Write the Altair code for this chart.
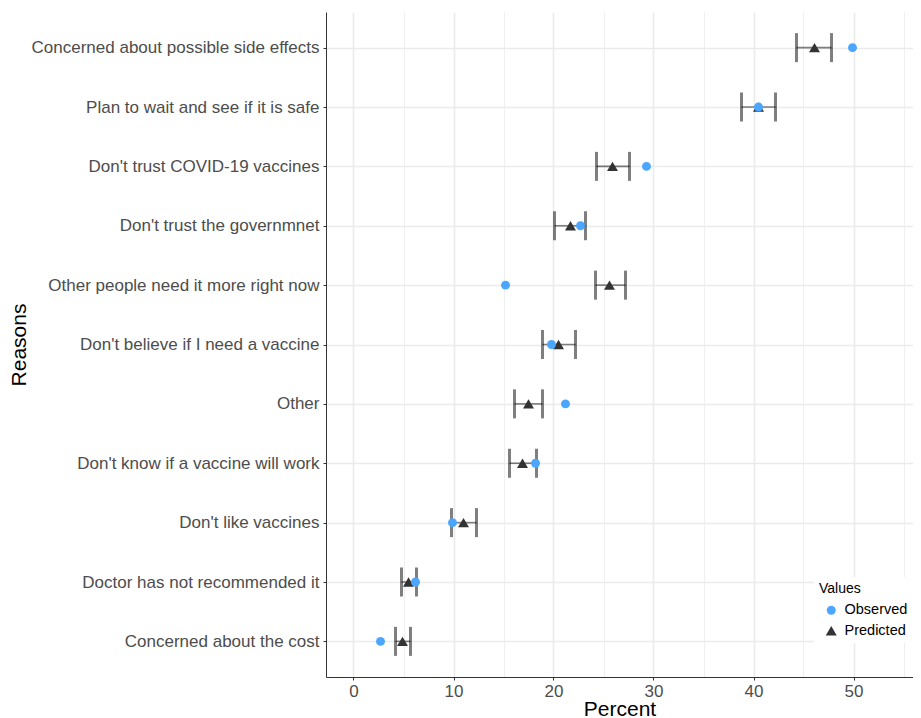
import altair as alt
import pandas as pd

reasons = [
    "Concerned about possible side effects",
    "Plan to wait and see if it is safe",
    "Don't trust COVID-19 vaccines",
    "Don't trust the governmnet",
    "Other people need it more right now",
    "Don't believe if I need a vaccine",
    "Other",
    "Don't know if a vaccine will work",
    "Don't like vaccines",
    "Doctor has not recommended it",
    "Concerned about the cost",
]
observed = [49.9, 40.5, 29.3, 22.7, 15.2, 19.8, 21.2, 18.2, 9.9, 6.2, 2.7]
predicted = [46.1, 40.5, 25.9, 21.7, 25.6, 20.5, 17.5, 16.9, 11.0, 5.5, 4.9]
lower = [44.3, 38.8, 24.3, 20.1, 24.2, 18.9, 16.1, 15.6, 9.8, 4.8, 4.2]
upper = [47.8, 42.2, 27.6, 23.2, 27.2, 22.2, 18.9, 18.3, 12.3, 6.3, 5.7]

ci = pd.DataFrame({"Reason": reasons, "lower": lower, "upper": upper})
pts = pd.DataFrame({
    "Reason": reasons * 2,
    "Percent": predicted + observed,
    "Values": ["Predicted"] * len(reasons) + ["Observed"] * len(reasons),
})

FONT = "Liberation Sans"

xscale = alt.Scale(domain=[-2.75, 55.95], nice=False, zero=False)
yscale = alt.Scale(type="point", domain=reasons, padding=0.6)

xaxis = alt.Axis(
    values=list(range(0, 56, 5)),
    labelExpr="datum.value % 10 == 0 ? datum.label : ''",
    grid=True,
    gridColor="#EBEBEB",
    gridWidth={"condition": {"test": "datum.value % 10 == 0", "value": 1.6}, "value": 0.8},
    tickOpacity={"condition": {"test": "datum.value % 10 == 0", "value": 1}, "value": 0},
    tickSize=3, tickColor="#333333",
    domainColor="#333333",
    labelFontSize=17, labelColor="#4D4D4D", labelFont=FONT, labelPadding=3,
    title="Percent", titleFontSize=21, titleFont=FONT, titleFontWeight="normal",
    titleColor="black", titleBaseline="alphabetic", titleY=38,
)
yaxis = alt.Axis(
    grid=True, gridColor="#EBEBEB", gridWidth=1.6,
    tickSize=3, tickColor="#333333", domainColor="#333333",
    labelFontSize=17, labelColor="#4D4D4D", labelFont=FONT, labelPadding=4,
    labelLimit=400,
    title="Reasons", titleFontSize=21, titleFont=FONT, titleFontWeight="normal",
    titleColor="black", titleBaseline="alphabetic", titleX=-301,
)

base_ci = alt.Chart(ci)
line = base_ci.mark_rule(color="black", opacity=0.5, strokeWidth=1.6).encode(
    x=alt.X("lower:Q", scale=xscale, axis=xaxis),
    x2="upper:Q",
    y=alt.Y("Reason:N", scale=yscale, axis=yaxis, sort=reasons),
)
cap_lo = base_ci.mark_tick(color="black", opacity=0.5, thickness=3, size=29).encode(
    x=alt.X("lower:Q", scale=xscale),
    y=alt.Y("Reason:N", scale=yscale, sort=reasons),
)
cap_hi = base_ci.mark_tick(color="black", opacity=0.5, thickness=3, size=29).encode(
    x=alt.X("upper:Q", scale=xscale),
    y=alt.Y("Reason:N", scale=yscale, sort=reasons),
)

legend = alt.Legend(title="Values", orient="none", legendX=488, legendY=565,
                    fillColor="white", padding=5,
                    titleFontSize=14, titleFont=FONT, titleFontWeight="normal",
                    titleColor="black", titlePadding=7,
                    labelFontSize=14.5, labelFont=FONT,
                    labelColor="black", symbolSize=90, rowPadding=5.5,
                    symbolOffset=5, labelOffset=6)

points = alt.Chart(pts).mark_point(filled=True, opacity=1).encode(
    x=alt.X("Percent:Q", scale=xscale),
    y=alt.Y("Reason:N", scale=yscale, sort=reasons),
    color=alt.Color("Values:N", scale=alt.Scale(domain=["Observed", "Predicted"],
                                                 range=["#4BA6FF", "#333333"]),
                    legend=legend),
    shape=alt.Shape("Values:N", scale=alt.Scale(domain=["Observed", "Predicted"],
                                                 range=["circle", "triangle-up"]),
                    legend=legend),
    size=alt.Size("Values:N", scale=alt.Scale(domain=["Observed", "Predicted"],
                                               range=[80, 120]),
                  legend=None),
    order=alt.Order("Values:N", sort="descending"),
)

chart = alt.layer(line, cap_lo, cap_hi, points).properties(
    width=587, height=665,
    autosize=alt.AutoSizeParams(type="none"),
    padding={"top": 4, "left": 318, "right": 0, "bottom": 42},
    background="white",
).configure_view(stroke=None).configure_axis(domainWidth=1)

chart.save("out.html", embed_options={"renderer": "svg", "actions": False})
